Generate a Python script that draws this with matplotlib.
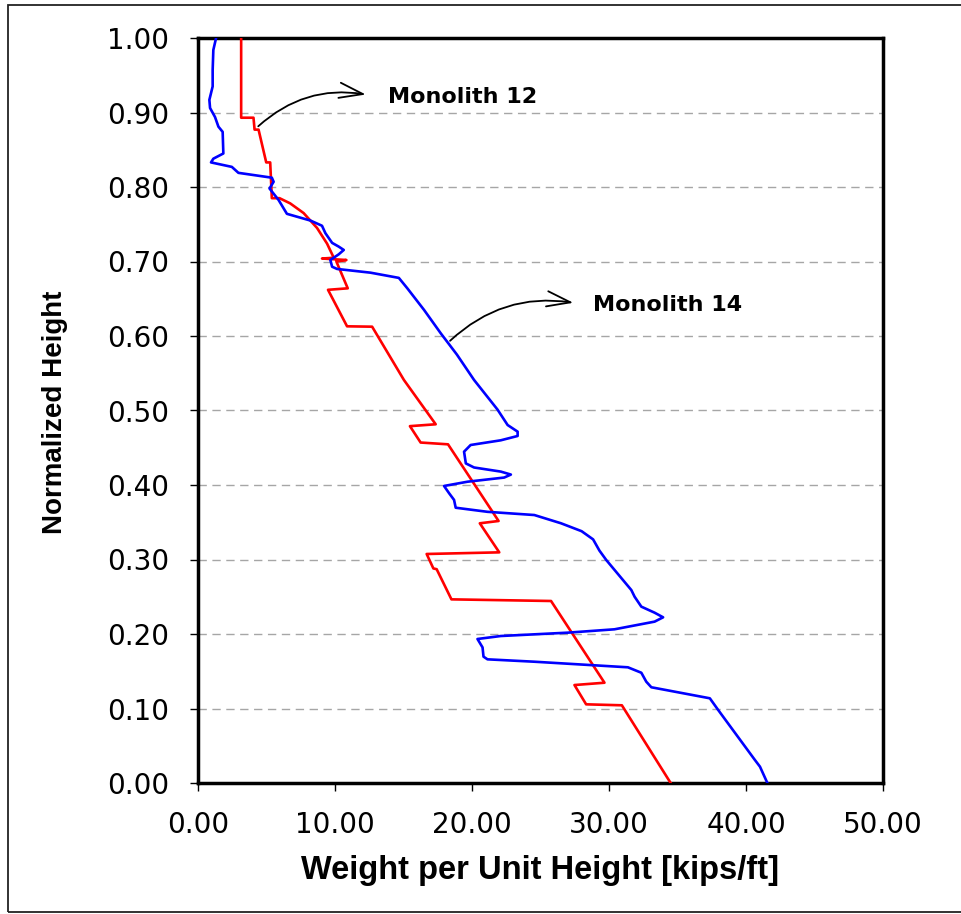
import matplotlib
matplotlib.use("Agg")
import matplotlib.pyplot as plt
from matplotlib.patches import Rectangle
from matplotlib.ticker import FormatStrFormatter, MultipleLocator

plt.rcParams['font.family'] = ['Liberation Sans', 'DejaVu Sans']

# Monolith 12 (rojo)
red_x = [3.15, 3.15, 4.05, 4.13, 4.42, 4.98, 5.27, 5.39, 5.95, 6.73,
         7.71, 8.69, 9.42, 9.91, 9.05, 10.83, 10.1, 10.93, 9.49, 10.88,
         12.71, 15.03, 17.35, 15.47, 16.25, 18.25, 21.94, 20.57, 21.99, 16.69,
         17.18, 17.42, 18.5, 25.77, 29.67, 27.48, 28.33, 30.94, 34.5]
red_y = [1.0, 0.893, 0.893, 0.877, 0.877, 0.833, 0.833, 0.785, 0.785, 0.778,
         0.765, 0.745, 0.724, 0.705, 0.704, 0.702, 0.700, 0.664, 0.662, 0.613,
         0.6125, 0.541, 0.4815, 0.479, 0.457, 0.4546, 0.3517, 0.3486, 0.3096, 0.3074,
         0.288, 0.287, 0.2465, 0.2443, 0.1346, 0.1315, 0.1056, 0.1043, 0.0]

# Monolith 14 (azul)
blue_x = [1.32, 1.12, 1.07, 1.07, 0.83, 0.88, 1.24, 1.49, 1.8, 1.85,
          1.12, 0.95, 2.47, 2.95, 5.39, 5.52, 5.22, 5.88, 6.49, 8.2,
          9.05, 9.3, 9.79, 10.27, 10.64, 10.27, 9.66, 9.79, 10.15, 12.59,
          14.66, 15.28, 16.5, 17.72, 18.9, 20.15, 21.86, 22.6, 23.33, 23.33,
          22.1, 19.9, 19.42, 19.55, 20.15, 22.1, 22.84, 22.35, 19.67, 17.96,
          18.33, 18.69, 18.81, 21.13, 24.55, 26.5, 28.0, 28.84, 29.3, 29.8,
          31.63, 31.87, 32.36, 33.33, 33.95, 33.33, 30.4, 26.99, 22.1, 20.4,
          20.77, 20.84, 21.13, 24.55, 31.38, 32.36, 32.72, 33.09, 37.36, 37.97,
          40.65, 41.02, 41.56]
blue_y = [1.0, 0.984, 0.957, 0.935, 0.917, 0.906, 0.894, 0.881, 0.874, 0.845,
          0.838, 0.833, 0.827, 0.819, 0.8125, 0.807, 0.798, 0.7826, 0.764, 0.755,
          0.748, 0.738, 0.725, 0.72, 0.7155, 0.7096, 0.702, 0.693, 0.690, 0.685,
          0.678, 0.664, 0.635, 0.6036, 0.575, 0.541, 0.5013, 0.4805, 0.4716, 0.4658,
          0.460, 0.4537, 0.4447, 0.429, 0.4235, 0.418, 0.414, 0.410, 0.4044, 0.3987,
          0.3889, 0.380, 0.3695, 0.364, 0.3597, 0.3486, 0.338, 0.327, 0.312, 0.2993,
          0.259, 0.250, 0.2367, 0.2286, 0.2224, 0.2166, 0.2063, 0.2018, 0.1973, 0.1933,
          0.182, 0.1696, 0.166, 0.1628, 0.1553, 0.148, 0.136, 0.1285, 0.1137, 0.098,
          0.0309, 0.0219, 0.0]

fig = plt.figure(figsize=(9.61, 9.14), dpi=100)
ax = fig.add_axes([198/961, 1-783/914, (883-198)/961, (783-38)/914])

# marco exterior
fig.patches.append(Rectangle((8/961, 2/914), 1.2, 1-7/914, transform=fig.transFigure,
                             fill=False, edgecolor='#222222', lw=1.3))

ax.plot(red_x, red_y, color='#ff0000', lw=1.9, zorder=3)
ax.plot(blue_x, blue_y, color='#0000ff', lw=1.9, zorder=3)

ax.set_xlim(0, 50)
ax.set_ylim(0, 1)
ax.xaxis.set_major_locator(MultipleLocator(10))
ax.yaxis.set_major_locator(MultipleLocator(0.1))
ax.xaxis.set_major_formatter(FormatStrFormatter('%.2f'))
ax.yaxis.set_major_formatter(FormatStrFormatter('%.2f'))
ax.tick_params(length=6, width=1, direction='out')
ax.tick_params(axis='x', pad=14)
ax.tick_params(axis='y', pad=15)
for lab in ax.get_xticklabels() + ax.get_yticklabels():
    lab.set_family('DejaVu Sans')
    lab.set_fontsize(20)
ax.yaxis.grid(True, color='#a6a6a6', linestyle=(0, (6, 4)), lw=1)
for s in ax.spines.values():
    s.set_linewidth(2.5)

ax.set_xlabel('Weight per Unit Height [kips/ft]', fontsize=23.5, fontweight='bold')
ax.xaxis.set_label_coords(0.5, -0.1168)
ax.xaxis.label.set_verticalalignment('center')
ax.set_ylabel('Normalized Height', fontsize=20, fontweight='bold')
ax.yaxis.set_label_coords(-0.2088, 0.498)
ax.yaxis.label.set_verticalalignment('center')

arrow = dict(arrowstyle='->,head_length=1.7,head_width=0.55', color='black',
             lw=1.3, connectionstyle='arc3,rad=-0.25')
ax.annotate('', xy=(12.45, 0.9235), xytext=(4.25, 0.879), arrowprops=arrow)
ax.text(13.9, 0.921, 'Monolith 12', fontsize=16, fontweight='bold', va='center',
        family='DejaVu Sans')

ax.annotate('', xy=(27.6, 0.644), xytext=(18.25, 0.591), arrowprops=arrow)
ax.text(28.84, 0.6416, 'Monolith 14', fontsize=16, fontweight='bold', va='center',
        family='DejaVu Sans')

fig.savefig('out.png', dpi=100)
